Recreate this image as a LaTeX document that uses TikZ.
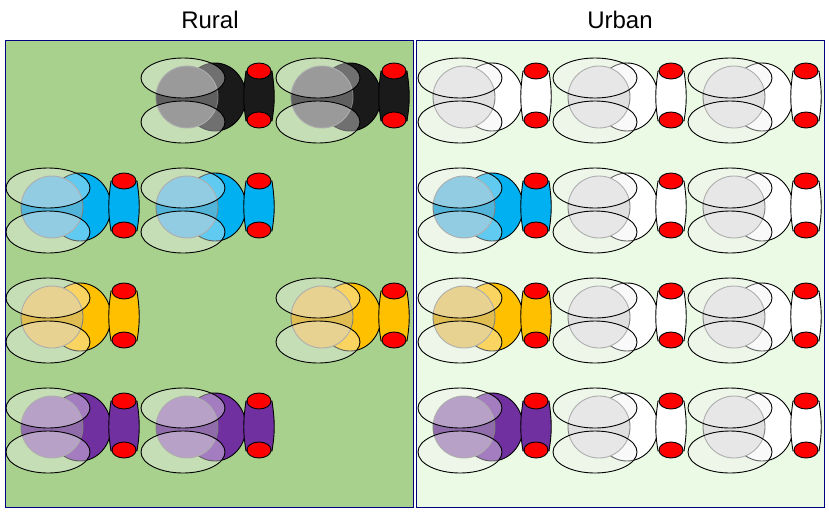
\documentclass[tikz,border=0pt]{standalone}
\usepackage{fontspec}
\setmainfont{Liberation Sans}
\begin{document}
\begin{tikzpicture}[x=1pt,y=-1pt,line width=0.9pt,
  panel/.style={draw=blue!50!black,line width=0.8pt},
  pics/bug/.style={code={
    \fill[#1,draw=black] (72,0) ellipse[x radius=31,y radius=34];
    \fill[#1!70!gray!80!white,draw=gray] (44,0) circle[radius=31];
    \filldraw[fill=#1,draw=black] (103,-26) .. controls (100,-5) and (100,5) .. (103,24) -- (129,24) .. controls (132,5) and (132,-5) .. (129,-26) -- cycle;
    \filldraw[fill=red,draw=black] (116,-26) ellipse[x radius=12,y radius=8];
    \filldraw[fill=red,draw=black] (116,23) ellipse[x radius=12,y radius=8];
    \filldraw[fill=gray!10,fill opacity=0.4,draw=black] (40,-19) ellipse[x radius=42,y radius=20];
    \filldraw[fill=gray!10,fill opacity=0.4,draw=black] (40,25) ellipse[x radius=42,y radius=21];
  }}]
\useasboundingbox (0,0) rectangle (829,512);
\definecolor{rural}{HTML}{A9D18E}\definecolor{urban}{HTML}{EBFAE4}
\definecolor{cblk}{HTML}{1A1A1A}\definecolor{cblu}{HTML}{00B0F0}
\definecolor{cyel}{HTML}{FFC000}\definecolor{cpur}{HTML}{7030A0}
\definecolor{cwht}{HTML}{FFFFFF}
\node (rt) at (210,20) {\fontsize{24}{28}\selectfont Rural};
\node (ut) at (620,20) {\fontsize{24}{28}\selectfont Urban};
\filldraw[panel,fill=rural] (5,40) rectangle (413,507);
\filldraw[panel,fill=urban] (416,40) rectangle (824,507);
% rural
\pic at (143,97) {bug=cblk}; \pic at (278,97) {bug=cblk};
\pic at (8,207) {bug=cblu}; \pic at (143,207) {bug=cblu};
\pic at (8,317) {bug=cyel}; \pic at (278,317) {bug=cyel};
\pic at (8,427) {bug=cpur}; \pic at (143,427) {bug=cpur};
% urban
\foreach \y in {97,207,317,427}{\pic at (555,\y) {bug=cwht}; \pic at (690,\y) {bug=cwht};}
\pic at (420,97) {bug=cwht};
\pic at (420,207) {bug=cblu};
\pic at (420,317) {bug=cyel};
\pic at (420,427) {bug=cpur};
\end{tikzpicture}
\end{document}
